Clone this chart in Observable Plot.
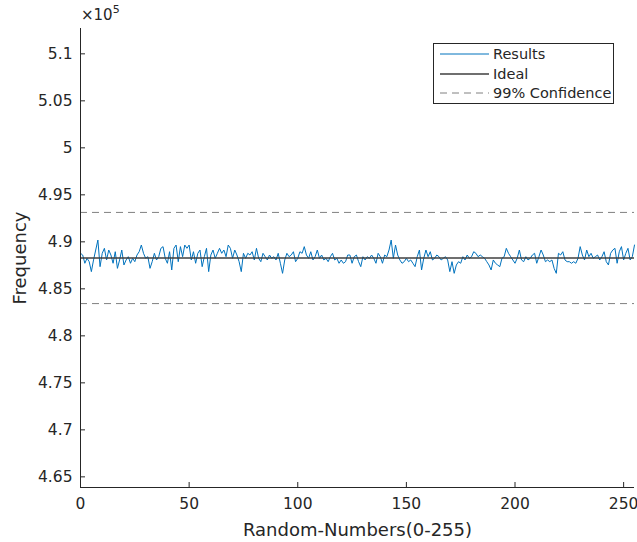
<!DOCTYPE html>
<html><head><meta charset="utf-8">
<script src="https://cdn.jsdelivr.net/npm/d3@7"></script>
<script src="https://cdn.jsdelivr.net/npm/@observablehq/plot@0.6"></script>
<style>
body{margin:0;background:#fff;font-family:"DejaVu Sans",sans-serif;}
#wrap{position:relative;width:637px;height:542px;}
#exp{position:absolute;left:81px;top:4px;font-size:15px;color:#262626;}
#exp sup{font-size:11px;position:relative;top:-1px;}
#legend{position:absolute;left:433px;top:43px;width:181px;height:61px;border:1px solid #262626;background:#fff;font-size:14.5px;color:#262626;box-sizing:border-box;}
.row{position:absolute;left:0;height:18px;display:flex;align-items:center;white-space:nowrap;}
.row svg{margin-left:6px;margin-right:4px;}
</style>
</head><body>
<div id="wrap"></div>
<script>
const randomNumbers = d3.range(256);
const frequency = [
488780,488600,487720,488250,487890,486830,488070,489130,490190,487360,
488780,489310,488070,489130,488600,487720,488950,487180,488070,489130,
487540,488070,488420,487720,488250,487890,488600,488950,489660,488780,
488250,488420,487180,487890,488780,488070,488420,489310,489490,488250,
487720,488950,487010,489310,489660,487890,489490,488420,489660,489310,
489660,488070,488950,487720,488780,489130,487360,488420,489310,486830,
488600,489130,488250,488780,489310,
488780,489130,488420,489660,489310,
488250,489130,488600,487890,486830,488780,488250,488780,488600,488950,
488070,489310,488250,487890,488780,488420,488070,488600,488250,488420,
488070,488780,487720,486650,488070,488780,488420,488600,488950,487890,
488250,488950,488780,489490,488600,488250,488950,488070,488420,489130,
488250,488600,488070,488250,487890,488420,488780,488070,488250,487720,
488070,487720,487890,488600,
488600,487720,488420,488600,487890,487360,
488420,488070,488420,488250,488600,488250,487720,488780,488420,487720,
488600,488420,489130,490190,488250,489660,488600,488070,487720,487890,
488250,487890,488070,487720,487360,488420,489130,487010,488250,489130,
488420,488950,488070,488250,488600,488420,488070,488250,488420,488070,
486830,487890,486650,487540,487890,487720,488420,488070,488600,488250,
488420,488950,488780,488420,
488600,488420,488250,487890,487540,487010,
488070,487720,487540,487360,488250,488420,489310,488780,488420,488070,
487720,488250,489130,488070,487890,488420,488070,488250,488600,488780,
487720,488420,489130,488600,487890,488070,487890,488070,487180,486650,
488780,488600,488950,488070,487890,487890,487720,487890,487720,488250,
489490,488600,488070,489130,488420,488780,488250,488420,488600,488070,
488420,488950,487890,487540,488780,489130,489310,487720,488950,489490,
488070,488780,489310,488070,488420,489660
];
const ideal = 488281.25;
const confidence = [493131, 483431];
const yDomain = [463867, 512695];
const xDomain = [0, 255];
const yTicks = [465000,470000,475000,480000,485000,490000,495000,500000,505000,510000];
const xTicks = [0,50,100,150,200,250];
const legendItems = ["Results","Ideal","99% Confidence"];

const W = 637, H = 542, mL = 80, mR = 3, mT = 28, mB = 55, tick = 5;
const frameW = W - mL - mR, frameH = H - mT - mB;
const axisColor = "#262626";
const chart = Plot.plot({
  width: W, height: H,
  marginLeft: mL, marginRight: mR, marginTop: mT, marginBottom: mB,
  style: {fontFamily: "DejaVu Sans", fontSize: "15.5px", color: axisColor, background: "#fff"},
  x: {domain: xDomain},
  y: {domain: yDomain},
  marks: [
    Plot.line(randomNumbers, {x: d => d, y: i => frequency[i], stroke: "#0072BD", strokeWidth: 1}),
    Plot.ruleY([ideal], {stroke: "#3f3f3f", strokeWidth: 1.5}),
    Plot.ruleY(confidence, {stroke: "#808080", strokeWidth: 1, strokeDasharray: "7,5"}),
    Plot.axisX({ticks: xTicks, tickSize: 0, tickPadding: 10, fill: axisColor,
      label: "Random-Numbers(0-255)", labelAnchor: "center", labelOffset: 48, labelArrow: "none"}),
    Plot.axisY({ticks: yTicks, tickSize: 0, tickPadding: 8, fill: axisColor,
      tickFormat: d => String(+(d / 1e5).toFixed(2)),
      label: "Frequency", labelAnchor: "center", labelOffset: 67, labelArrow: "none"}),
    Plot.ruleX(xTicks, {x: d => d, insetTop: frameH - tick, stroke: axisColor, strokeWidth: 1}),
    Plot.ruleY(yTicks, {y: d => d, insetRight: frameW - tick, stroke: axisColor, strokeWidth: 1}),
    Plot.ruleX([xDomain[0]], {stroke: axisColor, strokeWidth: 1}),
    Plot.ruleY([yDomain[0]], {stroke: axisColor, strokeWidth: 1})
  ]
});
d3.select(chart).selectAll('[aria-label="x-axis label"] text, [aria-label="y-axis label"] text').style("font-size", "18px");
const wrap = document.getElementById("wrap");
wrap.appendChild(chart);

const exp = document.createElement("div");
exp.id = "exp";
exp.innerHTML = "×10<sup>5</sup>";
wrap.appendChild(exp);

const legend = document.createElement("div");
legend.id = "legend";
const styles = [
  {stroke: "#0072BD", w: 1, dash: null},
  {stroke: "#3f3f3f", w: 1.5, dash: null},
  {stroke: "#808080", w: 1, dash: "7,5"}
];
legendItems.forEach((name, i) => {
  const row = document.createElement("div");
  row.className = "row";
  row.style.top = (1 + i * 19.5) + "px";
  const s = styles[i];
  row.innerHTML = `<svg width="49" height="10"><line x1="0" x2="49" y1="5" y2="5" stroke="${s.stroke}" stroke-width="${s.w}" ${s.dash ? `stroke-dasharray="${s.dash}"` : ""}/></svg><span>${name}</span>`;
  legend.appendChild(row);
});
wrap.appendChild(legend);
</script>
</body></html>
